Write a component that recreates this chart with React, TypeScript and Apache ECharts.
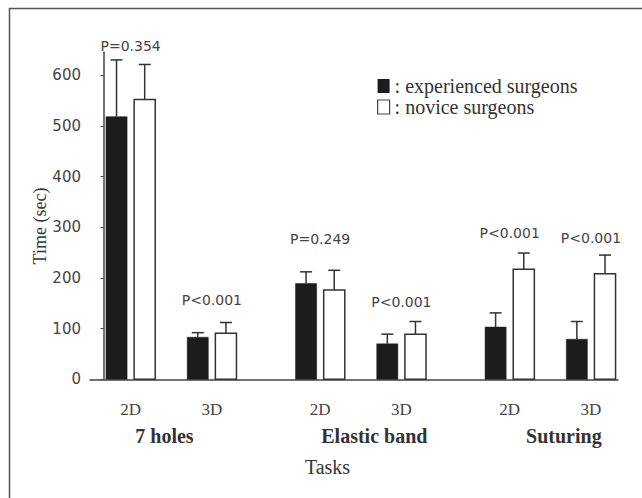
import React, { useEffect, useRef } from "react";
import * as echarts from "echarts";

const tasks = ["7 holes", "Elastic band", "Suturing"];
const conditions = ["2D", "3D"];
const seriesNames = ["experienced surgeons", "novice surgeons"];
const experiencedMean = [518, 83, 189, 70, 103, 79];
const experiencedErr = [112, 9, 23, 19, 28, 35];
const noviceMean = [552, 91, 176, 89, 217, 208];
const noviceErr = [69, 21, 39, 25, 32, 37];
const pValues = ["P=0.354", "P<0.001", "P=0.249", "P<0.001", "P<0.001", "P<0.001"];
const pLabelY = [657, 156, 277, 153, 289, 279];
const yTicks = [0, 100, 200, 300, 400, 500, 600];

const SERIF = "'Liberation Serif', 'Times New Roman', serif";
const SANS = "'DejaVu Sans', sans-serif";

export default function App() {
  const ref = useRef<HTMLDivElement>(null);
  useEffect(() => {
    if (!ref.current) return;
    const chart = echarts.init(ref.current, null, { renderer: "svg" });

    // pair positions along the x value axis (layout)
    const xPos: number[] = [];
    const xLabels: string[] = [];
    tasks.forEach((t, ti) =>
      conditions.forEach((c, ci) => {
        xPos.push(ti * 7 + ci * 3 + 1);
        xLabels.push(c);
      })
    );
    const groupPos = [2.25, 10, 17];

    const makeBarSeries = (
      name: string,
      means: number[],
      errs: number[],
      side: number,
      fill: string
    ) => ({
      type: "custom",
      name,
      clip: false,
      itemStyle: { color: fill, borderColor: "#333", borderWidth: 1 },
      data: means.map((m, i) => [xPos[i], m, errs[i]]),
      renderItem: (params: any, api: any) => {
        const x = api.value(0);
        const v = api.value(1);
        const e = api.value(2);
        const unit = api.size([1, 0])[0];
        const base = api.coord([x, 0]);
        const top = api.coord([x, v]);
        const errTop = api.coord([x, v + e]);
        const cx = base[0] + side * 0.52 * unit;
        const w = 0.78 * unit;
        return {
          type: "group",
          children: [
            {
              type: "line",
              shape: { x1: cx, y1: top[1], x2: cx, y2: errTop[1] },
              style: { stroke: "#333", lineWidth: 1.5 },
            },
            {
              type: "line",
              shape: { x1: cx - 6, y1: errTop[1], x2: cx + 6, y2: errTop[1] },
              style: { stroke: "#333", lineWidth: 1.5 },
            },
            {
              type: "rect",
              shape: { x: cx - w / 2, y: top[1], width: w, height: base[1] - top[1] },
              style: {
                fill,
                stroke: side < 0 ? "#1c1c1c" : "#333",
                lineWidth: side < 0 ? 0.5 : 1.5,
              },
            },
          ],
        };
      },
    });

    const option: any = {
      animation: false,
      backgroundColor: "#fff",
      grid: { left: 90, right: 24, top: 52.3, bottom: 118.7 },
      legend: {
        orient: "vertical",
        left: 372,
        top: 71,
        itemWidth: 12,
        itemHeight: 14,
        itemGap: 1,
        selectedMode: false,
        formatter: (n: string) => ": " + n,
        textStyle: { fontFamily: SERIF, fontSize: 20, color: "#333", lineHeight: 20 },
        data: [
          { name: seriesNames[0], icon: "rect", itemStyle: { color: "#1c1c1c", borderWidth: 0 } },
          {
            name: seriesNames[1],
            icon: "rect",
            itemStyle: { color: "#fff", borderColor: "#444", borderWidth: 1.2 },
          },
        ],
      },
      xAxis: [
        {
          type: "value",
          min: -0.5,
          max: 19,
          splitLine: { show: false },
          axisLine: { show: true, onZero: false, lineStyle: { color: "#444", width: 1.5 } },
          axisTick: { show: false },
          axisLabel: {
            customValues: xPos,
            formatter: (v: number) => {
              const i = xPos.findIndex((p) => Math.abs(p - v) < 1e-6);
              return i >= 0 ? xLabels[i] : "";
            },
            margin: 22,
            fontFamily: SERIF,
            fontSize: 17,
            color: "#444",
          },
        },
        {
          type: "value",
          position: "bottom",
          min: -0.5,
          max: 19,
          splitLine: { show: false },
          axisLine: { show: false },
          axisTick: { show: false },
          axisLabel: {
            customValues: groupPos,
            formatter: (v: number) => {
              const i = groupPos.findIndex((p) => Math.abs(p - v) < 1e-6);
              return i >= 0 ? tasks[i] : "";
            },
            margin: 47,
            fontFamily: SERIF,
            fontSize: 20,
            fontWeight: "bold",
            color: "#333",
          },
          name: "Tasks",
          nameLocation: "middle",
          nameGap: 78,
          nameTextStyle: {
            fontFamily: SERIF,
            fontSize: 20,
            color: "#333",
            padding: [0, 53, 0, 0],
          },
        },
      ],
      yAxis: {
        type: "value",
        min: 0,
        max: 645,
        splitLine: { show: false },
        axisLine: { show: true, lineStyle: { color: "#444", width: 1.5 } },
        axisTick: { show: true, length: 3, customValues: yTicks, lineStyle: { color: "#444" } },
        axisLabel: {
          customValues: yTicks,
          margin: 9,
          fontFamily: SANS,
          fontSize: 15,
          color: "#444",
        },
      },
      graphic: [
        {
          type: "rect",
          left: 7,
          top: 6,
          shape: { x: 0, y: 0, width: 700, height: 600 },
          style: { fill: "none", stroke: "#555", lineWidth: 1.5 },
          silent: true,
        },
        {
          type: "text",
          x: 40,
          y: 226,
          rotation: Math.PI / 2,
          style: {
            text: "Time (sec)",
            fontFamily: SERIF,
            fontSize: 18,
            fill: "#333",
            textAlign: "center",
            textVerticalAlign: "middle",
          },
        },
      ],
      series: [
        makeBarSeries(seriesNames[0], experiencedMean, experiencedErr, -1, "#1c1c1c"),
        makeBarSeries(seriesNames[1], noviceMean, noviceErr, 1, "#ffffff"),
        {
          type: "custom",
          clip: false,
          data: pLabelY.map((y, i) => [xPos[i], y]),
          renderItem: (params: any, api: any) => {
            const p = api.coord([api.value(0), api.value(1)]);
            return {
              type: "text",
              x: p[0],
              y: p[1],
              style: {
                text: pValues[params.dataIndex],
                fontFamily: SANS,
                fontSize: 14,
                fill: "#444",
                textAlign: "center",
                textVerticalAlign: "middle",
              },
            };
          },
        },
      ],
    };
    chart.setOption(option);
    return () => chart.dispose();
  }, []);
  return (
    <div
      ref={ref}
      style={{ position: "absolute", left: 0, top: 0, width: 642, height: 498 }}
    />
  );
}
